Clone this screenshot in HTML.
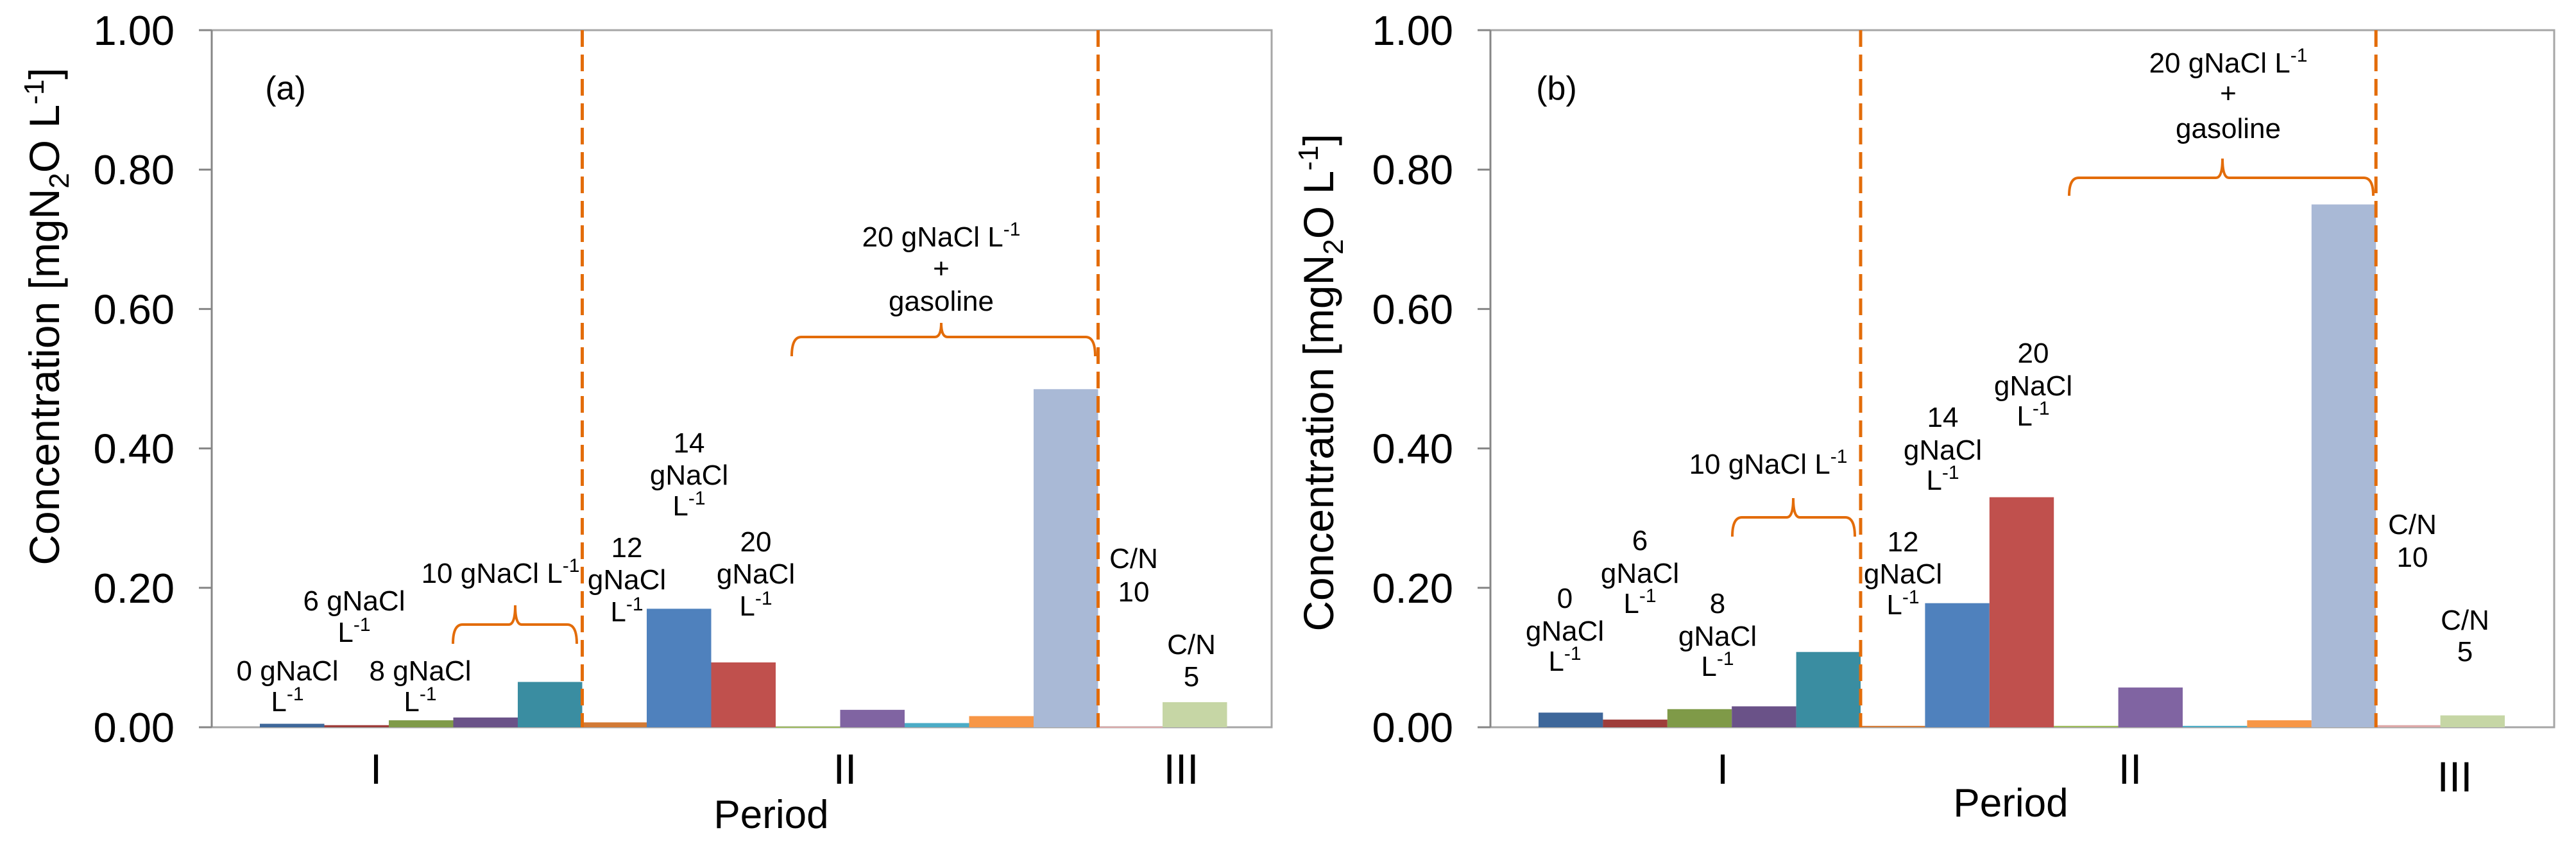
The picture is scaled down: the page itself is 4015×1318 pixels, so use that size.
<!DOCTYPE html>
<html><head><meta charset="utf-8"><style>
html,body{margin:0;padding:0;background:#fff;}
svg{display:block;font-family:"Liberation Sans",Arial,sans-serif;}
</style></head><body>
<svg id="chart" width="4015" height="1318" viewBox="0 0 4015 1318" xmlns="http://www.w3.org/2000/svg"></svg>
<script>
const categories = ["0 g","6 g","8 g","10 g a","10 g b","12 g","14 g","20 g","20 g+gas a","20 g+gas b","20 g+gas c","20 g+gas d","20 g+gas e","C/N 10","C/N 5"];
const valuesA = [0.005,0.003,0.010,0.014,0.065,0.007,0.170,0.093,0.001,0.025,0.006,0.016,0.485,0.001,0.036];
const valuesB = [0.021,0.011,0.026,0.030,0.108,0.002,0.178,0.330,0.002,0.057,0.002,0.010,0.750,0.003,0.017];
const yTicks = [0,0.2,0.4,0.6,0.8,1.0];
const tickLabels = ["0.00","0.20","0.40","0.60","0.80","1.00"];
const barColors = ["#3E679A","#9E3D3A","#7F9A48","#6A5288","#3A8DA1","#D27A35","#4F81BD","#C0504D","#9BBB59","#8064A2","#4BACC6","#F79646","#A9B9D6","#DDA8A8","#C6D6A5"];

const svg = document.getElementById('chart');
const NS = "http://www.w3.org/2000/svg";
function mk(tag, attrs, parent){
  const e = document.createElementNS(NS, tag);
  for (const k in attrs) e.setAttribute(k, attrs[k]);
  (parent||svg).appendChild(e);
  return e;
}
const Y0 = 1133, YTOP = 47;
const LSHIFT = -13;
function yScale(v){ return Y0 - v*(Y0-YTOP); }

function label(lines, cx, baselines, g, name){
  const t = mk('text', {x:cx, 'text-anchor':'middle', 'font-size':44, fill:'#000'}, g);
  
  
  lines.forEach((ln, i) => {
    const sp = mk('tspan', {x:cx, y:baselines[i]+LSHIFT}, t);
    if (ln.endsWith('L-1')) {
      sp.textContent = ln.slice(0, -2);
      const s = mk('tspan', {dy:-17, 'font-size':30}, t);
      s.textContent = '-1';
    } else sp.textContent = ln;
  });
}
function brace(g, x1, x2, yh, yend, xm, ypk, name){
  const p = mk('path', {d:`M${x1},${yend} Q${x1},${yh} ${x1+15},${yh} L${xm-10},${yh} Q${xm},${yh} ${xm},${ypk} Q${xm},${yh} ${xm+10},${yh} L${x2-15},${yh} Q${x2},${yh} ${x2},${yend}`, fill:'none', stroke:'#E36C09', 'stroke-width':4}, g);
  
  
}

function panel(cfg){
  const g = mk('g', {});
  
  
  const L = cfg.left, R = cfg.right, bw = cfg.bw, b0 = cfg.firstBar;
  const fr = mk('rect', {x:L, y:YTOP, width:R-L, height:Y0-YTOP, fill:'none', stroke:'#A6A6A6', 'stroke-width':3}, g);
  
  
  const ax = mk('line', {x1:L, y1:YTOP, x2:L, y2:Y0, stroke:'#868686', 'stroke-width':3}, g);
  
  
  yTicks.forEach((v, i) => {
    const y = yScale(v);
    const tk = mk('line', {x1:L-20, y1:y, x2:L, y2:y, stroke:'#868686', 'stroke-width':3}, g);
    
    
    const t = mk('text', {x:L-58, y:y+23, 'text-anchor':'end', 'font-size':65, fill:'#000'}, g);
    
    
    t.textContent = tickLabels[i];
  });
  cfg.values.forEach((v, i) => {
    const x = b0 + i*bw;
    const y = yScale(v);
    const r = mk('rect', {x:x, y:y, width:bw, height:Math.max(Y0-y,2), fill:barColors[i]}, g);
    
    
  });
  [5, 13].forEach(k => {
    const x = b0 + k*bw;
    const d = mk('line', {x1:x, y1:YTOP, x2:x, y2:Y0, stroke:'#E36C09', 'stroke-width':5, 'stroke-dasharray':'26 12'}, g);
    
    
  });
  const pl = mk('text', {x:cfg.letterX, y:155, 'text-anchor':'middle', 'font-size':52, fill:'#000'}, g);
  
  
  pl.textContent = cfg.letter;
  cfg.periods.forEach(p => {
    const t = mk('text', {x:p[1], y:p[2], 'text-anchor':'middle', 'font-size':66, fill:'#000'}, g);
    
    
    t.textContent = p[0];
  });
  const xt = mk('text', {x:cfg.periodX, y:cfg.periodY, 'text-anchor':'middle', 'font-size':62, fill:'#000'}, g);
  
  
  xt.textContent = 'Period';
  const yt = mk('text', {transform:`translate(${cfg.ytX},${cfg.ytY}) rotate(-90)`, 'text-anchor':'middle', 'font-size':66, fill:'#000'}, g);
  
  
  const a = mk('tspan', {}, yt); a.textContent = cfg.ytPrefix + '[mgN';
  const b = mk('tspan', {dy:15, 'font-size':44}, yt); b.textContent = '2';
  const c = mk('tspan', {dy:-15}, yt); c.textContent = 'O L';
  const d = mk('tspan', {dy:-24, 'font-size':44}, yt); d.textContent = '-1';
  const e = mk('tspan', {dy:24}, yt); e.textContent = ']';
  cfg.labels.forEach(l => label(l[0], l[1], l[2], g, l[3]));
  cfg.braces.forEach(b => brace(g, ...b));
}

panel({name:'panel-a', left:330, right:1982, bw:100.5, firstBar:405, values:valuesA, letter:'(a)', letterX:445,
  periods:[['I',586,1221],['II',1317,1221],['III',1841,1221]], periodX:1202, periodY:1290,
  ytX:92, ytY:493, ytPrefix:'Concentration ',
  labels:[
    [['0 gNaCl','L-1'],448,[1073,1121],'label-0g'],
    [['6 gNaCl','L-1'],552,[964,1013],'label-6g'],
    [['8 gNaCl','L-1'],655,[1073,1121],'label-8g'],
    [['10 gNaCl L-1'],780,[921],'label-10g'],
    [['12','gNaCl','L-1'],977,[881,931,981],'label-12g'],
    [['14','gNaCl','L-1'],1074,[718,768,816],'label-14g'],
    [['20','gNaCl','L-1'],1178,[872,922,972],'label-20g'],
    [['20 gNaCl L-1','+','gasoline'],1467,[397,446,497],'label-20g-gasoline'],
    [['C/N','10'],1767,[898,950],'label-cn10'],
    [['C/N','5'],1857,[1032,1082],'label-cn5']
  ],
  braces:[[706,899,973,1003,803,943,'brace-10g'],[1234,1707,525,555,1467,503,'brace-gasoline']]
});
panel({name:'panel-b', left:2323, right:3981, bw:100.4, firstBar:2398, values:valuesB, letter:'(b)', letterX:2426,
  periods:[['I',2685,1221],['II',3320,1221],['III',3826,1233]], periodX:3134, periodY:1272,
  ytX:2078, ytY:596, ytPrefix:'Concentration  ',
  labels:[
    [['0','gNaCl','L-1'],2439,[960,1011,1058],'label-0g'],
    [['6','gNaCl','L-1'],2556,[870,921,968],'label-6g'],
    [['8','gNaCl','L-1'],2677,[968,1019,1066],'label-8g'],
    [['10 gNaCl L-1'],2756,[751],'label-10g'],
    [['12','gNaCl','L-1'],2966,[872,922,970],'label-12g'],
    [['14','gNaCl','L-1'],3028,[678,729,776],'label-14g'],
    [['20','gNaCl','L-1'],3169,[578,629,676],'label-20g'],
    [['20 gNaCl L-1','+','gasoline'],3473,[126,173,228],'label-20g-gasoline'],
    [['C/N','10'],3760,[845,896],'label-cn10'],
    [['C/N','5'],3842,[994,1043],'label-cn5']
  ],
  braces:[[2700,2891,806,836,2795,776,'brace-10g'],[3225,3699,277,305,3464,247,'brace-gasoline']]
});
</script>
</body></html>
